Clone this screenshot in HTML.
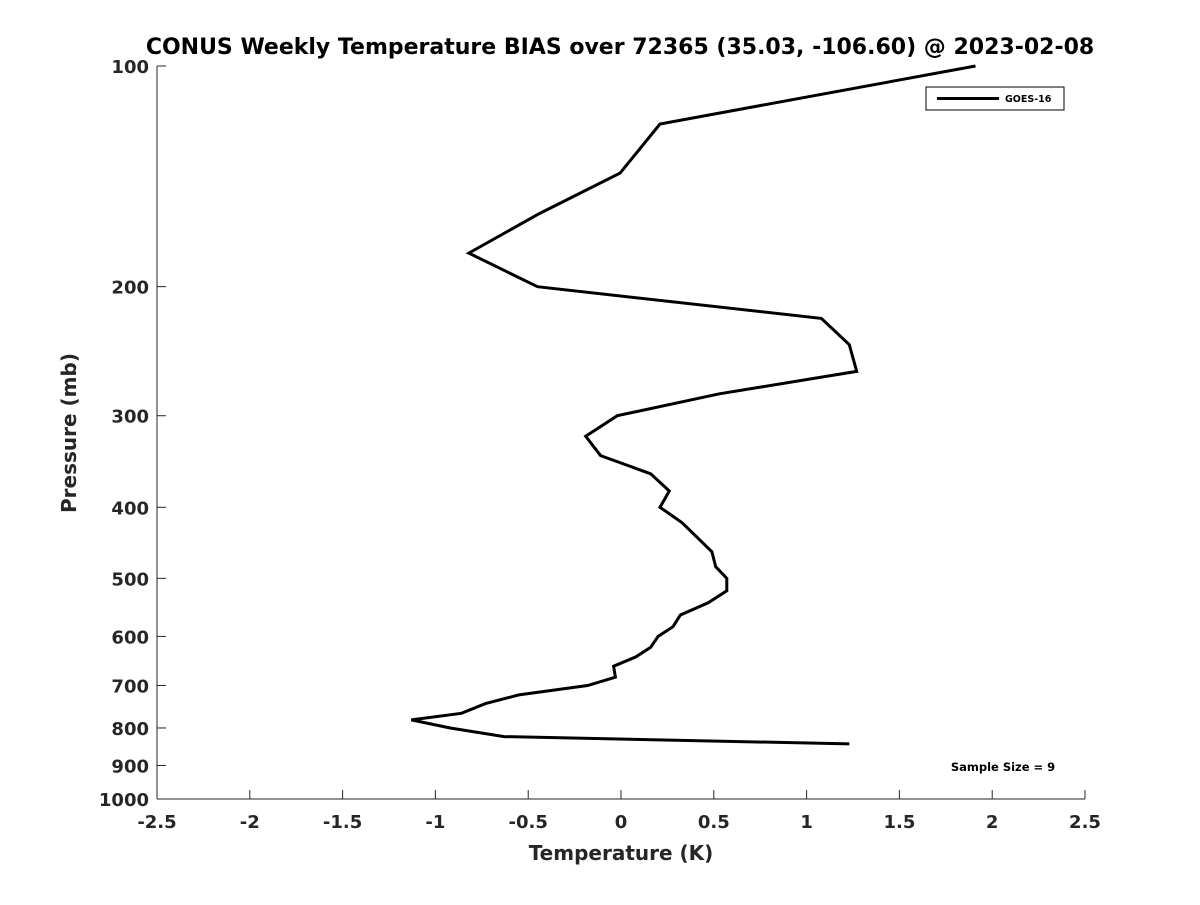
<!DOCTYPE html>
<html><head><meta charset="utf-8"><style>
body{margin:0;background:#fff;}
svg text{font-family:"DejaVu Sans","Liberation Sans",sans-serif;font-weight:bold;}
</style></head><body>
<svg id="chart" width="1200" height="900" xmlns="http://www.w3.org/2000/svg">
<rect width="1200" height="900" fill="#fff"/>
<text x="620" y="54" text-anchor="middle" font-size="22" fill="#000">CONUS Weekly Temperature BIAS over 72365 (35.03, -106.60) @ 2023-02-08</text>
<g id="axes"></g>
<path id="line" fill="none" stroke="#000" stroke-width="3" stroke-linejoin="miter"/>
<g>
<rect x="926" y="87" width="138" height="23" fill="#fff" stroke="#000" stroke-width="1"/>
<line x1="937" y1="98.5" x2="999" y2="98.5" stroke="#000" stroke-width="3"/>
<text x="1005" y="102" font-size="9.5" fill="#000">GOES-16</text>
</g>
<text x="1003" y="771" text-anchor="middle" font-size="11.5" fill="#000">Sample Size = 9</text>
<text x="621" y="860" text-anchor="middle" font-size="20" fill="#262626">Temperature (K)</text>
<text transform="translate(76,433) rotate(-90)" text-anchor="middle" font-size="20" fill="#262626">Pressure (mb)</text>
</svg>
<script>
const temps=[1.91,0.21,-0.005,-0.44,-0.82,-0.45,1.08,1.23,1.27,0.53,-0.02,-0.19,-0.11,0.16,0.26,0.21,0.33,0.49,0.51,0.57,0.57,0.47,0.32,0.28,0.20,0.16,0.08,-0.04,-0.03,-0.18,-0.55,-0.73,-0.86,-1.13,-0.92,-0.63,1.23];
const pressures=[100,120,140,159,180,200,221,240,261,280,300,320,340,360,380,400,420,460,482,500,520,540,561,582,600,621,640,659,682,700,721,741,764,780,800,822,841];
const xTicks=[-2.5,-2,-1.5,-1,-0.5,0,0.5,1,1.5,2,2.5];
const yTicks=[100,200,300,400,500,600,700,800,900,1000];
const X0=157,X1=1085,Y0=66,Y1=799;
function xs(t){return X0+(t+2.5)/5*(X1-X0);}
function ys(p){return Y0+(Math.log10(p)-2)*(Y1-Y0);}
const NS="http://www.w3.org/2000/svg";
const ax=document.getElementById('axes');
function mk(tag,attrs,parent){const e=document.createElementNS(NS,tag);for(const k in attrs)e.setAttribute(k,attrs[k]);parent.appendChild(e);return e;}
const lx=mk('line',{x1:X0,y1:Y0,x2:X0,y2:Y1,stroke:'#262626','stroke-width':1},ax);


const bx=mk('line',{x1:X0,y1:Y1,x2:X1,y2:Y1,stroke:'#262626','stroke-width':1},ax);


xTicks.forEach(t=>{const x=xs(t);
 mk('line',{x1:x,y1:Y1,x2:x,y2:Y1-9,stroke:'#262626'},ax);
 const tx=mk('text',{x:x,y:Y1+29,'text-anchor':'middle','font-size':18,fill:'#262626'},ax);
 tx.textContent=String(t);
 
 
});
yTicks.forEach(p=>{const y=ys(p);
 mk('line',{x1:X0,y1:y,x2:X0+9,y2:y,stroke:'#262626'},ax);
 const tx=mk('text',{x:X0-8,y:y+7,'text-anchor':'end','font-size':18,fill:'#262626'},ax);
 tx.textContent=String(p);
 
 
});
document.getElementById('line').setAttribute('d',temps.map((t,i)=>(i?'L':'M')+xs(t).toFixed(1)+','+ys(pressures[i]).toFixed(1)).join(''));
</script>
</body></html>
